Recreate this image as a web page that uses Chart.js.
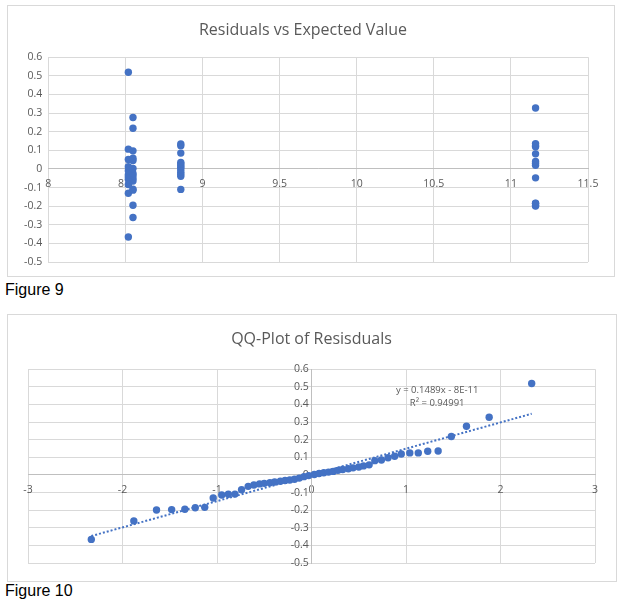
<!DOCTYPE html>
<html><head><meta charset="utf-8">
<script src="https://cdn.jsdelivr.net/npm/chart.js@4"></script>
<style>
html,body{margin:0;padding:0;background:#fff}
body{width:623px;height:604px;position:relative;overflow:hidden;font-family:"Liberation Sans",Arial,sans-serif}
.box{position:absolute;border:1px solid #d9d9d9;background:#fff}
.box canvas{display:block}
.fig{position:absolute;left:5px;font-size:16px;color:#000;white-space:nowrap}
</style></head><body>
<div class="box" style="left:7px;top:5px;width:606px;height:270px"><canvas id="c1" width="606" height="270" style="width:606px;height:270px"></canvas></div>
<div class="fig" style="top:281px">Figure 9</div>
<div class="box" style="left:7px;top:314px;width:608px;height:266px"><canvas id="c2" width="608" height="266" style="width:608px;height:266px"></canvas></div>
<div class="fig" style="top:582px">Figure 10</div>
<script>
// Residuals (sorted), their expected (fitted) values and normal quantiles
const residuals = [-0.366,-0.261,-0.199,-0.197,-0.195,-0.186,-0.184,-0.131,-0.114,-0.110,
  -0.109,-0.084,-0.065,-0.057,-0.051,-0.048,-0.044,-0.040,-0.036,-0.032,
  -0.029,-0.025,-0.018,-0.010,-0.004,0.002,0.008,0.012,0.016,0.020,
  0.026,0.031,0.035,0.040,0.045,0.051,0.057,0.081,0.085,0.097,
  0.106,0.119,0.125,0.125,0.134,0.136,0.218,0.276,0.327,0.519];
const expected = [8.52,8.55,11.16,11.16,8.55,11.16,11.16,8.52,8.55,8.86,
  8.55,8.52,8.55,8.52,8.55,11.16,8.52,8.86,8.55,8.52,
  8.86,8.55,8.86,8.52,8.86,8.55,8.86,8.52,8.86,11.16,
  8.86,11.16,8.86,11.16,8.55,8.52,8.55,11.16,8.86,8.55,
  8.52,11.16,8.86,11.16,8.86,11.16,8.55,8.55,11.16,8.52];
const quantiles = [-2.33,-1.88,-1.64,-1.48,-1.34,-1.23,-1.13,-1.04,-0.95,-0.88,
  -0.81,-0.74,-0.67,-0.61,-0.55,-0.50,-0.44,-0.39,-0.33,-0.28,
  -0.23,-0.18,-0.13,-0.08,-0.03,0.03,0.08,0.13,0.18,0.23,
  0.28,0.33,0.39,0.44,0.50,0.55,0.61,0.67,0.74,0.81,
  0.88,0.95,1.04,1.13,1.23,1.34,1.48,1.64,1.88,2.33];
const trendX = [-2.33, 2.33];
const trendY = [-0.347, 0.347];
const trendLabel = ['y = 0.1489x - 8E-11', 'R\u00B2 = 0.94991'];
const title1 = 'Residuals vs Expected Value';
const title2 = 'QQ-Plot of Resisduals';

const FONT = '"Open Sans", "Noto Sans", sans-serif';
const TXT = '#595959';
const GRID = '#d9d9d9';
const AXIS = '#bfbfbf';
const BLUE = '#4472C4';
Chart.defaults.font.family = FONT;
Chart.defaults.color = TXT;

const fmt = v => { const r = Math.round(v * 10) / 10; return (r === 0 ? 0 : r).toString(); };
const tickFont = {family: FONT, size: 10.5};

const pointDs = pts => ({
  type: 'scatter', data: pts, backgroundColor: BLUE, borderColor: BLUE,
  pointRadius: 3.7, pointHoverRadius: 3.7, borderWidth: 0, order: 0
});

new Chart(document.getElementById('c1'), {
  type: 'scatter',
  data: {datasets: [pointDs(expected.map((x, i) => ({x, y: residuals[i]})))]},
  options: {
    responsive: false, animation: false, events: [],
    layout: {padding: {left: 10, right: 26, top: 0, bottom: 14}},
    plugins: {
      legend: {display: false}, tooltip: {enabled: false},
      title: {display: true, text: title1, color: TXT,
        font: {family: FONT, size: 16, weight: 'normal'}, padding: {top: 15, bottom: 17}}
    },
    scales: {
      x: {type: 'linear', min: 8, max: 11.5, position: {y: 0},
        afterFit(s) { s.height = 0; },
        ticks: {stepSize: 0.5, color: TXT, font: tickFont, padding: 9, maxRotation: 0, autoSkip: false, callback: fmt},
        grid: {color: GRID, drawTicks: false}, border: {color: AXIS}},
      y: {type: 'linear', min: -0.5, max: 0.6,
        ticks: {stepSize: 0.1, color: TXT, font: tickFont, padding: 6, callback: fmt, autoSkip: false},
        grid: {color: GRID, drawTicks: false}, border: {display: false}}
    }
  }
});

const eqPlugin = {
  id: 'eq',
  afterDatasetsDraw(chart) {
    const {ctx, scales: {x, y}} = chart;
    ctx.save();
    ctx.fillStyle = TXT;
    ctx.font = '9.5px ' + FONT;
    ctx.textAlign = 'center';
    ctx.textBaseline = 'middle';
    ctx.fillText(trendLabel[0], x.getPixelForValue(1.33), y.getPixelForValue(0.483));
    ctx.fillText(trendLabel[1], x.getPixelForValue(1.33), y.getPixelForValue(0.407));
    ctx.restore();
  }
};

new Chart(document.getElementById('c2'), {
  type: 'scatter',
  data: {datasets: [
    pointDs(quantiles.map((x, i) => ({x, y: residuals[i]}))),
    {type: 'scatter', showLine: true, data: trendX.map((x, i) => ({x, y: trendY[i]})),
      borderColor: BLUE, backgroundColor: BLUE, borderWidth: 2, borderDash: [2, 2],
      pointRadius: 0, fill: false, order: 1}
  ]},
  options: {
    responsive: false, animation: false, events: [],
    layout: {padding: {left: 20, right: 21, top: 0, bottom: 18}},
    plugins: {
      legend: {display: false}, tooltip: {enabled: false},
      title: {display: true, text: title2, color: TXT,
        font: {family: FONT, size: 16, weight: 'normal'}, padding: {top: 15, bottom: 20}}
    },
    scales: {
      x: {type: 'linear', min: -3, max: 3, position: {y: 0},
        afterFit(s) { s.height = 0; },
        ticks: {stepSize: 1, color: TXT, font: tickFont, padding: 9, maxRotation: 0, autoSkip: false},
        grid: {color: GRID, drawTicks: false}, border: {color: AXIS}},
      y: {type: 'linear', min: -0.5, max: 0.6, position: {x: 0},
        afterFit(s) { s.width = 0; },
        ticks: {stepSize: 0.1, color: TXT, font: tickFont, padding: 4, callback: v => fmt(v) + ' ', autoSkip: false},
        grid: {color: GRID, drawTicks: false}, border: {color: AXIS}}
    }
  },
  plugins: [eqPlugin]
});
</script>
</body></html>
